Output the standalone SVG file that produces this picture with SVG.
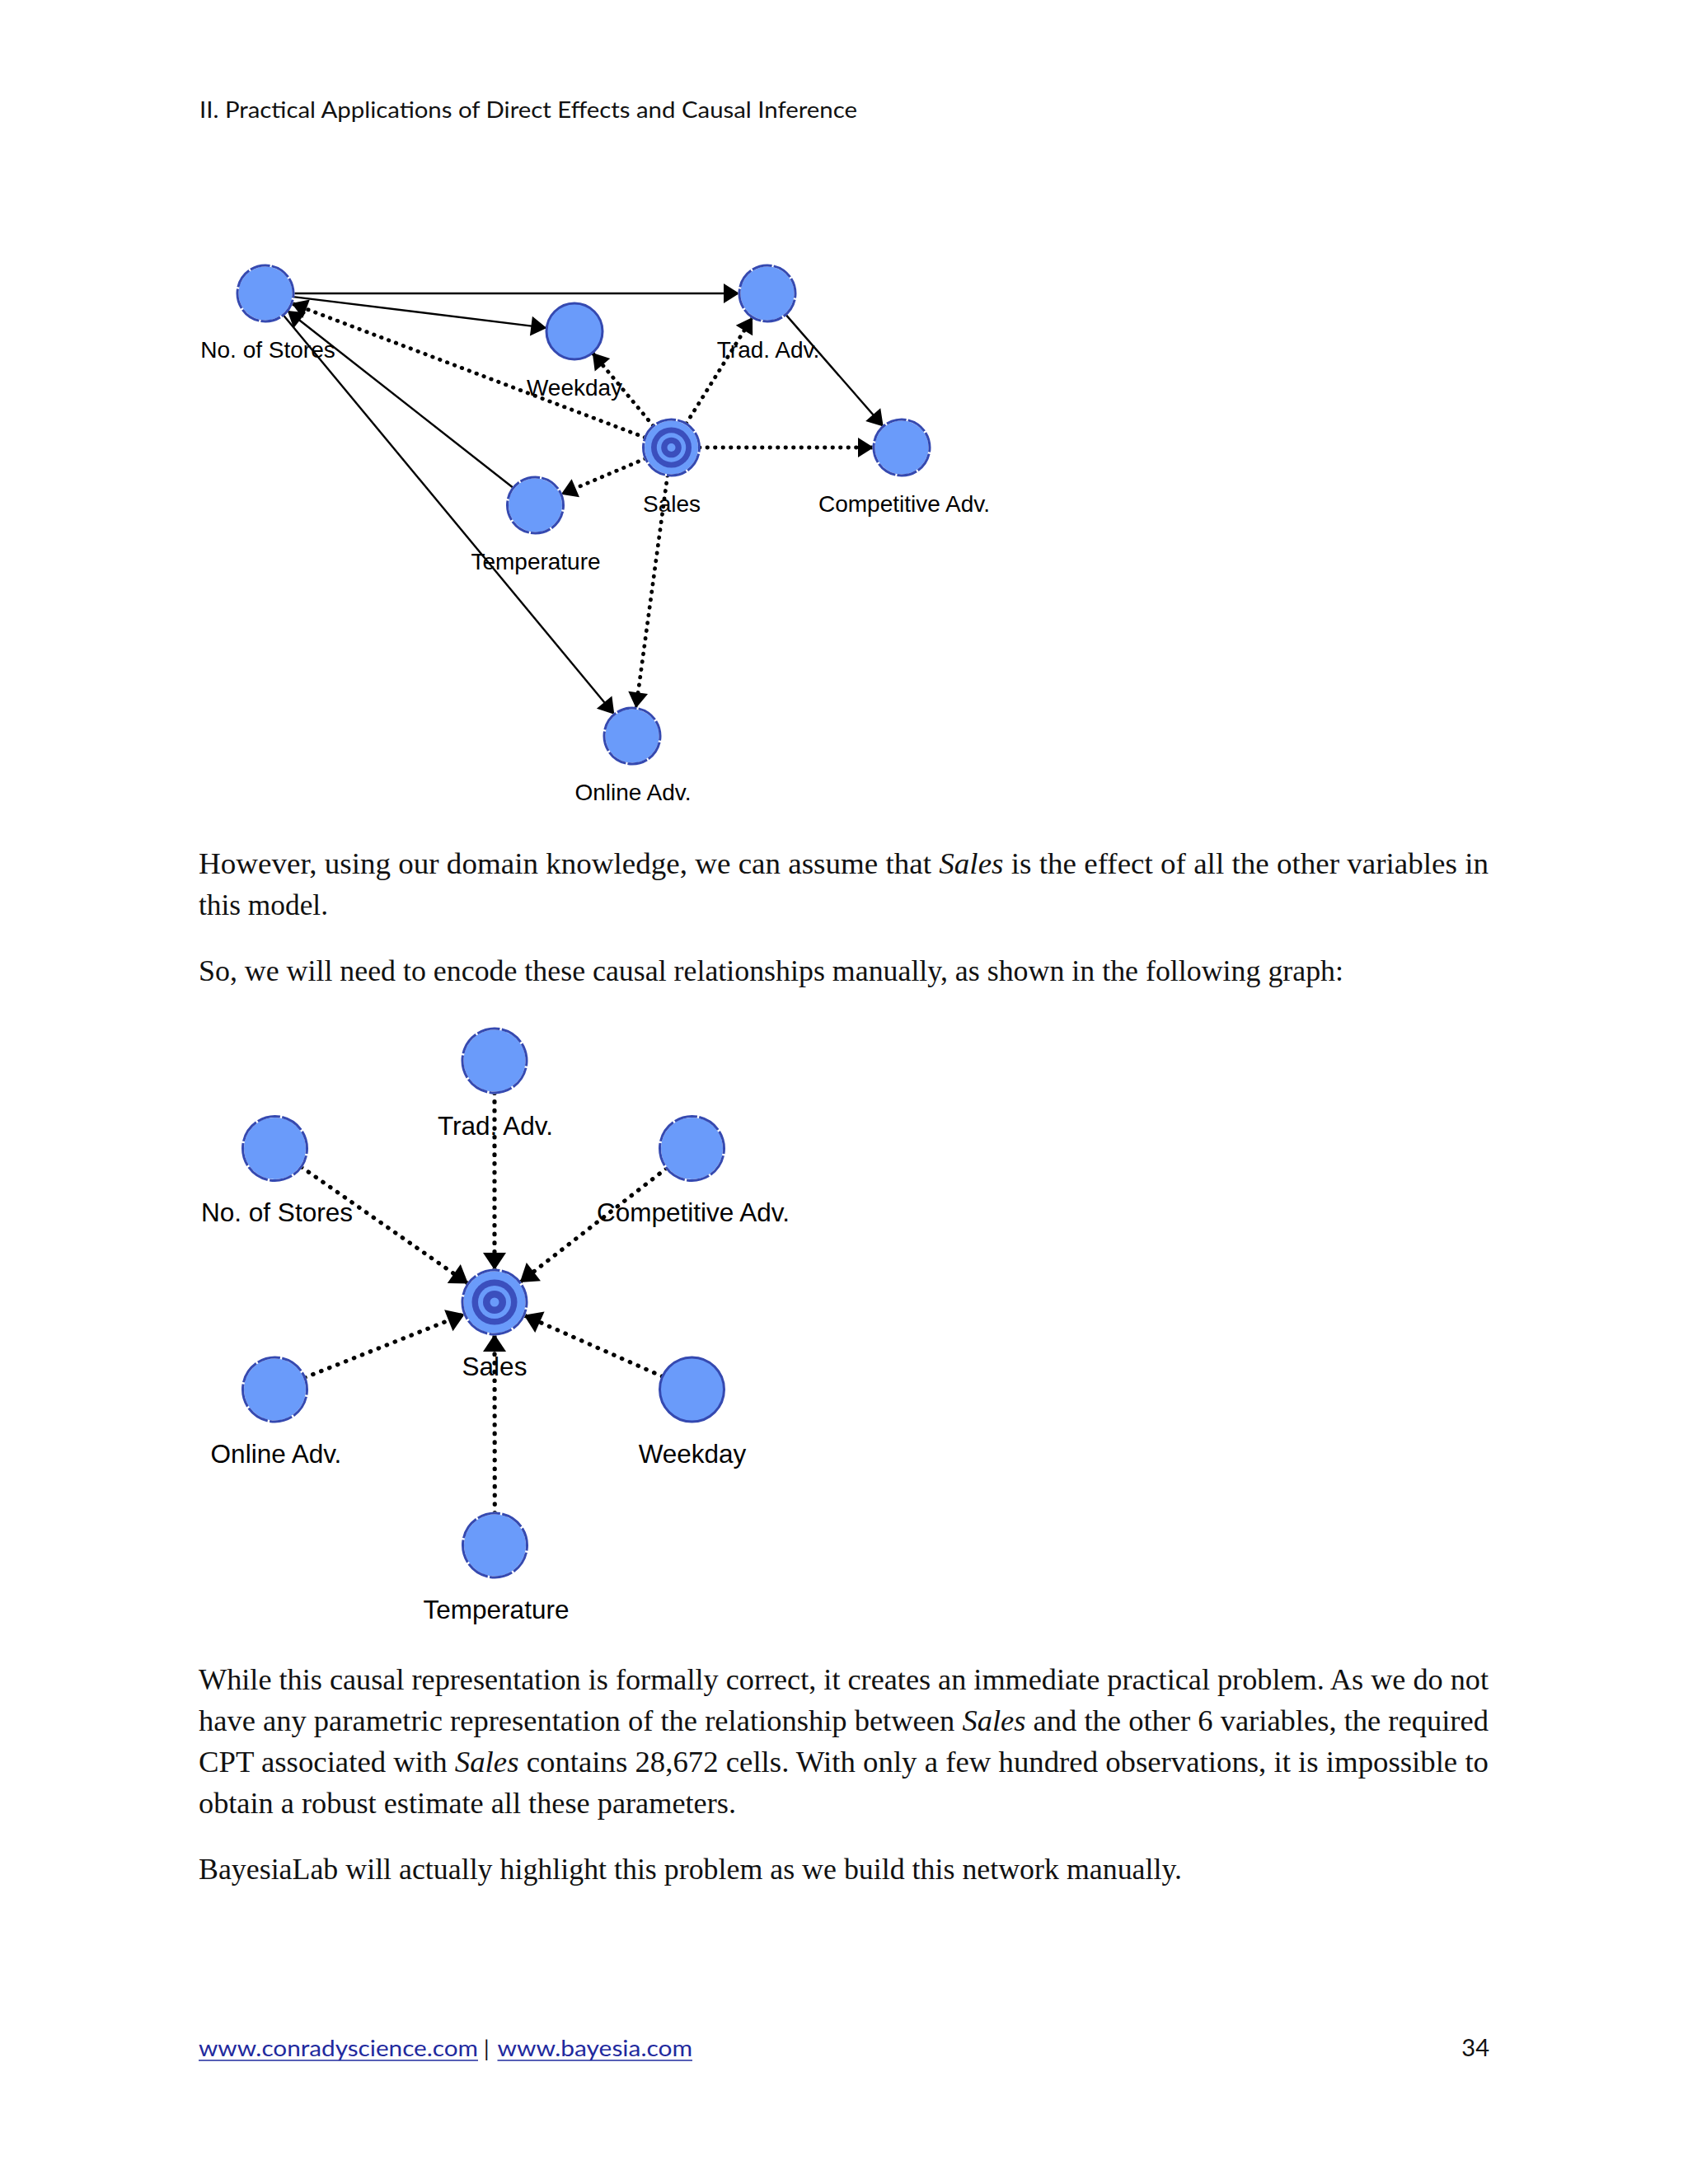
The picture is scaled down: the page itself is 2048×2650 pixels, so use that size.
<svg xmlns="http://www.w3.org/2000/svg" width="2048" height="2650" viewBox="0 0 2048 2650">
<style>
.page{fill:#ffffff}
.hdr{font-family:Lato,"Open Sans","Liberation Sans",sans-serif;font-size:26px;fill:#111}
.num{font-family:Lato,"Open Sans","Liberation Sans",sans-serif;font-size:29px;fill:#111}
.body{font-family:"Liberation Serif","DejaVu Serif",serif;font-size:35px;fill:#111}
.link{font-family:Lato,"Open Sans","Liberation Sans",sans-serif;font-size:26px;fill:#1f2a9e}
.lbl{font-family:"Liberation Sans",Arial,sans-serif;font-size:28px;fill:#000;text-anchor:middle}
.lbl2{font-family:"Liberation Sans",Arial,sans-serif;font-size:31.5px;fill:#000;text-anchor:middle}
.nb{fill:#6a9bfa;stroke:#ffffff;stroke-width:3}
.nd{fill:none;stroke:#3549b0;stroke-width:3;stroke-dasharray:9.2 0.8;stroke-dashoffset:7.1}
.ns{fill:#6a9bfa;stroke:#3549b0;stroke-width:3}
.dk{fill:#3b4fbd}
.lt{fill:#6a9bfa}
.sol{stroke:#000;stroke-width:2.4;fill:none}
.dot{stroke:#000;stroke-width:4.8;fill:none;stroke-linecap:round;stroke-dasharray:0.5 9}
.dot2{stroke:#000;stroke-width:5.2;fill:none;stroke-linecap:round;stroke-dasharray:0.5 10.2}
</style>
<defs>
<marker id="a" markerUnits="userSpaceOnUse" markerWidth="22" markerHeight="26" refX="19" refY="12" orient="auto" overflow="visible">
<path d="M0,0 L19,12 L0,24 Z" fill="#000"/>
</marker>
<marker id="b" markerUnits="userSpaceOnUse" markerWidth="24" markerHeight="30" refX="21" refY="14" orient="auto" overflow="visible">
<path d="M0,0 L21,14 L0,28 Z" fill="#000"/>
</marker>
</defs>
<rect class="page" x="0" y="0" width="2048" height="2650"/>

<text class="hdr" x="242" y="143" textLength="798" lengthAdjust="spacingAndGlyphs">II. Practical Applications of Direct Effects and Causal Inference</text>

<!-- ===== Top graph ===== -->
<g id="connectors-top">
<line class="sol" x1="356" y1="356" x2="897" y2="356" marker-end="url(#a)"/>
<line class="sol" x1="355.7" y1="360.1" x2="663.3" y2="397.9" marker-end="url(#a)"/>
<line class="sol" x1="953.3" y1="381.6" x2="1071.7" y2="517.4" marker-end="url(#a)"/>
<line class="sol" x1="622.8" y1="592" x2="348.7" y2="377" marker-end="url(#a)"/>
<line class="sol" x1="343.7" y1="382.2" x2="745.3" y2="866.8" marker-end="url(#a)"/>
<line class="dot" x1="782.7" y1="530.9" x2="353.8" y2="368.1" marker-end="url(#a)"/>
<line class="dot" x1="792.7" y1="516.9" x2="718.8" y2="428.1" marker-end="url(#a)"/>
<line class="dot" x1="832.5" y1="514.1" x2="913" y2="384.9" marker-end="url(#a)"/>
<line class="dot" x1="848.5" y1="543" x2="1060" y2="543" marker-end="url(#a)"/>
<line class="dot" x1="783.2" y1="556.3" x2="680.8" y2="599.7" marker-end="url(#a)"/>
<line class="dot" x1="809.9" y1="576.7" x2="771.6" y2="859.3" marker-end="url(#a)"/>
</g>

<g id="t-stores">
<circle class="nb" cx="322" cy="356" r="34"/>
<circle class="nd" cx="322" cy="356" r="34" pathLength="80"/>
<text class="lbl" x="325" y="434">No. of Stores</text>
</g>
<g id="t-weekday">
<circle class="ns" cx="697" cy="402" r="34"/>
<text class="lbl" x="697" y="480">Weekday</text>
</g>
<g id="t-trad">
<circle class="nb" cx="931" cy="356" r="34"/>
<circle class="nd" cx="931" cy="356" r="34" pathLength="80"/>
<text class="lbl" x="932" y="434">Trad. Adv.</text>
</g>
<g id="t-sales">
<circle class="nb" cx="814.5" cy="543" r="34"/>
<circle class="nd" cx="814.5" cy="543" r="34" pathLength="80"/>
<circle class="dk" cx="814.5" cy="543" r="24.5"/>
<circle class="lt" cx="814.5" cy="543" r="17.7"/>
<circle class="dk" cx="814.5" cy="543" r="12.3"/>
<circle class="lt" cx="814.5" cy="543" r="5"/>
<text class="lbl" x="815" y="621">Sales</text>
</g>
<g id="t-competitive">
<circle class="nb" cx="1094" cy="543" r="34"/>
<circle class="nd" cx="1094" cy="543" r="34" pathLength="80"/>
<text class="lbl" x="1097" y="621">Competitive Adv.</text>
</g>
<g id="t-temperature">
<circle class="nb" cx="649.5" cy="613" r="34"/>
<circle class="nd" cx="649.5" cy="613" r="34" pathLength="80"/>
<text class="lbl" x="650" y="691">Temperature</text>
</g>
<g id="t-online">
<circle class="nb" cx="767" cy="893" r="34"/>
<circle class="nd" cx="767" cy="893" r="34" pathLength="80"/>
<text class="lbl" x="768" y="971">Online Adv.</text>
</g>

<!-- ===== Body text ===== -->
<text class="body" x="241" y="1060" textLength="1565" lengthAdjust="spacingAndGlyphs">However, using our domain knowledge, we can assume that <tspan font-style="italic">Sales</tspan> is the effect of all the other variables in</text>
<text class="body" x="241" y="1110" textLength="157" lengthAdjust="spacingAndGlyphs">this model.</text>
<text class="body" x="241" y="1190" textLength="1389" lengthAdjust="spacingAndGlyphs">So, we will need to encode these causal relationships manually, as shown in the following graph:</text>

<!-- ===== Bottom graph ===== -->
<g id="connectors-bottom">
<line class="dot2" x1="600" y1="1326" x2="600" y2="1541" marker-end="url(#b)"/>
<line class="dot2" x1="365.5" y1="1415.9" x2="568" y2="1557.6" marker-end="url(#b)"/>
<line class="dot2" x1="808.7" y1="1417.5" x2="630.8" y2="1556" marker-end="url(#b)"/>
<line class="dot2" x1="369.7" y1="1671.6" x2="563.8" y2="1594.4" marker-end="url(#b)"/>
<line class="dot2" x1="803.8" y1="1670.2" x2="635.7" y2="1595.8" marker-end="url(#b)"/>
<line class="dot2" x1="600.3" y1="1836" x2="600" y2="1619" marker-end="url(#b)"/>
</g>

<g id="b-trad">
<circle class="nb" cx="600" cy="1287" r="39"/>
<circle class="nd" cx="600" cy="1287" r="39" pathLength="80"/>
<text class="lbl2" x="601" y="1377">Trad. Adv.</text>
</g>
<g id="b-stores">
<circle class="nb" cx="333.5" cy="1393.5" r="39"/>
<circle class="nd" cx="333.5" cy="1393.5" r="39" pathLength="80"/>
<text class="lbl2" x="336" y="1482">No. of Stores</text>
</g>
<g id="b-competitive">
<circle class="nb" cx="839.5" cy="1393.5" r="39"/>
<circle class="nd" cx="839.5" cy="1393.5" r="39" pathLength="80"/>
<text class="lbl2" x="841" y="1482">Competitive Adv.</text>
</g>
<g id="b-sales">
<circle class="nb" cx="600" cy="1580" r="39"/>
<circle class="nd" cx="600" cy="1580" r="39" pathLength="80"/>
<circle class="dk" cx="600" cy="1580" r="27.5"/>
<circle class="lt" cx="600" cy="1580" r="20"/>
<circle class="dk" cx="600" cy="1580" r="14"/>
<circle class="lt" cx="600" cy="1580" r="5.5"/>
<text class="lbl2" x="600" y="1669">Sales</text>
</g>
<g id="b-online">
<circle class="nb" cx="333.5" cy="1686" r="39"/>
<circle class="nd" cx="333.5" cy="1686" r="39" pathLength="80"/>
<text class="lbl2" x="335" y="1775">Online Adv.</text>
</g>
<g id="b-weekday">
<circle class="ns" cx="839.5" cy="1686" r="39"/>
<text class="lbl2" x="840" y="1775">Weekday</text>
</g>
<g id="b-temperature">
<circle class="nb" cx="600.5" cy="1875" r="39"/>
<circle class="nd" cx="600.5" cy="1875" r="39" pathLength="80"/>
<text class="lbl2" x="602" y="1964">Temperature</text>
</g>

<text class="body" x="241" y="2050" textLength="1565" lengthAdjust="spacingAndGlyphs">While this causal representation is formally correct, it creates an immediate practical problem. As we do not</text>
<text class="body" x="241" y="2100" textLength="1565" lengthAdjust="spacingAndGlyphs">have any parametric representation of the relationship between <tspan font-style="italic">Sales</tspan> and the other 6 variables, the required</text>
<text class="body" x="241" y="2150" textLength="1565" lengthAdjust="spacingAndGlyphs">CPT associated with <tspan font-style="italic">Sales</tspan> contains 28,672 cells. With only a few hundred observations, it is impossible to</text>
<text class="body" x="241" y="2200" textLength="652" lengthAdjust="spacingAndGlyphs">obtain a robust estimate all these parameters.</text>
<text class="body" x="241" y="2280" textLength="1193" lengthAdjust="spacingAndGlyphs">BayesiaLab will actually highlight this problem as we build this network manually.</text>

<!-- ===== Footer ===== -->
<text class="link" x="241" y="2495" textLength="339" lengthAdjust="spacingAndGlyphs">www.conradyscience.com</text>
<line x1="241" y1="2500" x2="580" y2="2500" stroke="#1f2a9e" stroke-width="1.6"/>
<text class="hdr" x="587" y="2495">|</text>
<text class="link" x="603.5" y="2495" textLength="236.5" lengthAdjust="spacingAndGlyphs">www.bayesia.com</text>
<line x1="603.5" y1="2500" x2="840" y2="2500" stroke="#1f2a9e" stroke-width="1.6"/>
<text class="num" x="1807" y="2495" text-anchor="end">34</text>
</svg>
